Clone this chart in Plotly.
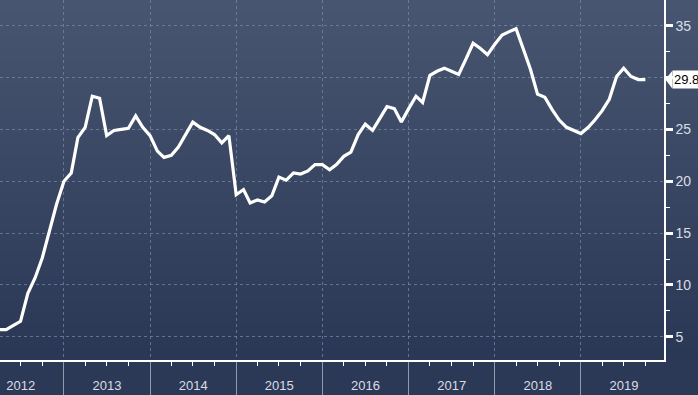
import plotly.graph_objects as go
import pandas as pd

# ---- data (monthly) ----
start_month = "2012-03-01"
values = [
    5.7, 5.7, 5.7, 6.1, 6.5, 9.2, 10.7, 12.6, 15.3, 17.8,          # 2012 Mar-Dec
    20.0, 20.8, 24.2, 25.2, 28.2, 28.0, 24.4, 24.9, 25.0, 25.1, 26.3, 25.2,  # 2013
    24.4, 22.9, 22.3, 22.5, 23.3, 24.5, 25.7, 25.2, 24.9, 24.5, 23.7, 24.4,  # 2014
    18.7, 19.2, 17.9, 18.2, 18.0, 18.6, 20.4, 20.1, 20.8, 20.7, 21.0, 21.6,  # 2015
    21.6, 21.1, 21.6, 22.4, 22.8, 24.5, 25.5, 24.9, 26.0, 27.2, 27.0, 25.7,  # 2016
    27.0, 28.2, 27.6, 30.2, 30.6, 30.9, 30.6, 30.3, 31.8, 33.3, 32.8, 32.2,  # 2017
    33.2, 34.1, 34.4, 34.7, 32.8, 30.8, 28.4, 28.1, 26.9, 25.9, 25.2, 24.9,  # 2018
    24.6, 25.2, 25.9, 26.8, 27.9, 30.1, 30.9, 30.1, 29.8, 29.8,              # 2019 Jan-Oct
]
dates = pd.date_range(start_month, periods=len(values), freq="MS")
y_ticks = [5, 10, 15, 20, 25, 30, 35]
y_ticktext = ["5", "10", "15", "20", "25", "", "35"]  # 30 is covered by the last-value tag
last_label = f"{values[-1]:.1f}"

BG_TOP = (71, 85, 113)
BG_BOT = (43, 56, 85)
GRID = "rgba(120,140,170,0.7)"
TXT = "#d9dde5"

fig = go.Figure()
fig.add_trace(go.Scatter(
    x=dates, y=values, mode="lines",
    line=dict(color="white", width=3.2),
    hoverinfo="skip", showlegend=False,
))

# background gradient bands
shapes = []
n = 60
for i in range(n):
    t = i / (n - 1)
    c = tuple(round(BG_BOT[k] + (BG_TOP[k] - BG_BOT[k]) * t) for k in range(3))
    shapes.append(dict(
        type="rect", xref="paper", yref="paper",
        x0=0, x1=1.06, y0=i / n, y1=(i + 1) / n + 0.002,
        fillcolor=f"rgb{c}", line=dict(width=0), layer="below",
    ))
# pointer of the last-value label
yv = values[-1]
shapes.append(dict(
    type="path", xref="paper", yref="y",
    path=f"M 1.002,{yv} L 1.0125,{yv + 0.85} L 1.0125,{yv - 0.85} Z",
    fillcolor="white", line=dict(width=0), layer="above",
))

fig.update_layout(
    width=698, height=395,
    margin=dict(l=0, r=34, t=0, b=35),
    paper_bgcolor="rgb(44,57,86)",
    plot_bgcolor="rgba(0,0,0,0)",
    shapes=shapes,
    font=dict(family="Liberation Sans, Arial, sans-serif", color=TXT, size=13),
    xaxis=dict(
        range=["2012-04-05", "2019-12-19"],
        type="date",
        tick0="2012-01-01", dtick="M12", tickformat="%Y",
        ticklabelmode="period",
        ticks="outside", ticklen=35, tickcolor="rgba(170,180,195,0.8)", tickwidth=1,
        ticklabelstandoff=-22,
        showgrid=True, gridcolor=GRID, griddash="dot", gridwidth=1,
        showline=True, linecolor="white", linewidth=1.5,
        minor=dict(dtick="M3", ticks="outside", ticklen=4, tickcolor="white", tickwidth=1, showgrid=False),
        tickfont=dict(size=13, color=TXT),
        zeroline=False, fixedrange=True,
    ),
    yaxis=dict(
        range=[2.77, 37.47],
        side="right",
        tickvals=y_ticks, ticktext=y_ticktext,
        ticks="outside", ticklen=7, tickwidth=2.5, tickcolor="white",
        showgrid=True, gridcolor=GRID, griddash="dot", gridwidth=1,
        showline=True, linecolor="white", linewidth=1.5,
        minor=dict(dtick=2.5, tick0=2.5, ticks="outside", ticklen=4, tickcolor="white", tickwidth=1, showgrid=False),
        tickfont=dict(size=14, color=TXT),
        zeroline=False, fixedrange=True,
    ),
    annotations=[dict(
        x=1.0125, xref="paper", y=yv, yref="y",
        xanchor="left", yanchor="middle",
        text=last_label, showarrow=False,
        bgcolor="white", font=dict(color="black", size=13),
        borderpad=1,
    )],
)

fig.write_html(
    "out.html",
    config={"displayModeBar": False},
    post_script="document.body.style.margin='0';document.body.style.overflow='hidden';",
)
